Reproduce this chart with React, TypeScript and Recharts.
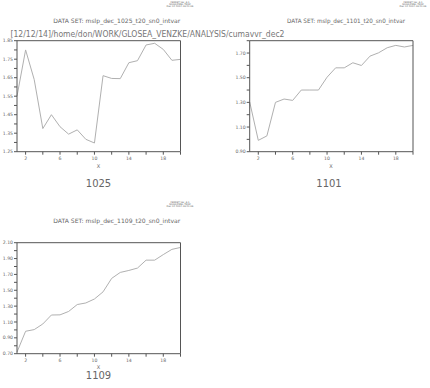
import { LineChart, Line, XAxis, YAxis } from "recharts"

const steps = [1, 2, 3, 4, 5, 6, 7, 8, 9, 10, 11, 12, 13, 14, 15, 16, 17, 18, 19, 20]

const vals1025 = [1.55, 1.8, 1.64, 1.375, 1.45, 1.385, 1.345, 1.368, 1.317, 1.297, 1.661, 1.646, 1.645, 1.731, 1.742, 1.827, 1.836, 1.803, 1.744, 1.749]
const vals1101 = [1.303, 0.992, 1.028, 1.3, 1.327, 1.316, 1.4, 1.4, 1.4, 1.504, 1.58, 1.58, 1.621, 1.599, 1.675, 1.702, 1.743, 1.762, 1.749, 1.762]
const vals1109 = [0.72, 0.983, 1.004, 1.075, 1.188, 1.19, 1.233, 1.32, 1.34, 1.39, 1.48, 1.65, 1.725, 1.75, 1.78, 1.88, 1.88, 1.95, 2.016, 2.04]

const xTicks = [2, 4, 6, 8, 10, 12, 14, 16, 18, 20]
const xLabels = [2, 6, 10, 14, 18]

const yTicks1025 = [1.25, 1.3, 1.35, 1.4, 1.45, 1.5, 1.55, 1.6, 1.65, 1.7, 1.75, 1.8, 1.85]
const yLabels1025 = [1.25, 1.35, 1.45, 1.55, 1.65, 1.75, 1.85]
const yTicks1101 = [0.9, 1.0, 1.1, 1.2, 1.3, 1.4, 1.5, 1.6, 1.7, 1.8]
const yLabels1101 = [0.9, 1.1, 1.3, 1.5, 1.7]
const yTicks1109 = [0.7, 0.8, 0.9, 1.0, 1.1, 1.2, 1.3, 1.4, 1.5, 1.6, 1.7, 1.8, 1.9, 2.0, 2.1]
const yLabels1109 = [0.7, 0.9, 1.1, 1.3, 1.5, 1.7, 1.9, 2.1]

const ferretLines = ["FERRET Ver. 6.1", "NOAA/PMEL TMAP", "Dec 12 2014 09:21:06"]
const pathTitle = "[12/12/14]/home/don/WORK/GLOSEA_VENZKE/ANALYSIS/cumavvr_dec2"

const AXIS = "#555"
const TEXT = "#666"
const FONT = "'DejaVu Sans', sans-serif"

const CW = 215
const CH = 190

const isLabel = (list: number[], v: number) => list.some((l) => Math.abs(l - v) < 1e-6)

interface PanelProps {
    values: number[]
    left: number
    top: number
    plotLeft: number
    plotRight: number
    plotTop: number
    plotBottom: number
    yDomain: [number, number]
    yTicks: number[]
    yLabels: number[]
}

function Panel({ values, left, top, plotLeft, plotRight, plotTop, plotBottom, yDomain, yTicks, yLabels }: PanelProps) {
    const data = steps.map((s, i) => ({ x: s, value: values[i] }))
    const tickStyle = { fontSize: 4.6, fill: TEXT, fontFamily: FONT }
    return (
        <div style={{ position: "absolute", left, top }}>
            <LineChart
                width={CW}
                height={CH}
                data={data}
                margin={{
                    top: plotTop - 5,
                    left: plotLeft - 17,
                    right: CW - plotRight - 5,
                    bottom: CH - plotBottom - 14,
                }}
            >
                <XAxis
                    xAxisId="b"
                    dataKey="x"
                    type="number"
                    domain={[1, 20]}
                    ticks={xTicks}
                    height={14}
                    stroke={AXIS}
                    tickSize={3}
                    tickMargin={2}
                    tick={tickStyle}
                    tickFormatter={(v) => (isLabel(xLabels, v) ? String(v) : "")}
                    interval={0}
                />
                <XAxis
                    xAxisId="t"
                    orientation="top"
                    dataKey="x"
                    type="number"
                    domain={[1, 20]}
                    ticks={xTicks}
                    height={5}
                    stroke={AXIS}
                    tickSize={3}
                    tick={false}
                    interval={0}
                />
                <YAxis
                    yAxisId="l"
                    type="number"
                    domain={yDomain}
                    ticks={yTicks}
                    width={17}
                    stroke={AXIS}
                    tickSize={3}
                    tickMargin={1}
                    tick={tickStyle}
                    tickFormatter={(v) => (isLabel(yLabels, v) ? v.toFixed(2) : "")}
                    interval={0}
                    allowDataOverflow
                />
                <YAxis
                    yAxisId="r"
                    orientation="right"
                    type="number"
                    domain={yDomain}
                    ticks={yTicks}
                    width={5}
                    stroke={AXIS}
                    tickSize={3}
                    tick={false}
                    interval={0}
                    allowDataOverflow
                />
                <Line
                    xAxisId="b"
                    yAxisId="l"
                    type="linear"
                    dataKey="value"
                    stroke="#b0b0b0"
                    strokeWidth={1}
                    dot={false}
                    isAnimationActive={false}
                />
            </LineChart>
        </div>
    )
}

function Header({ cx, top, dsX, dataSet, dsLen }: { cx: number; top: number; dsX: number; dataSet: string; dsLen: number }) {
    return (
        <g>
            {ferretLines.map((t, i) => (
                <text key={i} x={cx} y={top + 2.6 + i * 2.4} fontSize={2.4} fill={TEXT} fontFamily={FONT} textAnchor="middle">
                    {t}
                </text>
            ))}
            <text x={dsX} y={top + 23} fontSize={6} fill={TEXT} fontFamily={FONT} textLength={dsLen} lengthAdjust="spacingAndGlyphs">
                {dataSet}
            </text>
        </g>
    )
}

export default function App() {
    return (
        <div style={{ position: "absolute", left: 0, top: 0, width: 430, height: 388, background: "#fff", fontFamily: FONT }}>
            <Panel values={vals1025} left={0} top={0}
                plotLeft={17} plotRight={180.5} plotTop={40.7} plotBottom={151.7}
                yDomain={[1.25, 1.85]} yTicks={yTicks1025} yLabels={yLabels1025} />
            <Panel values={vals1101} left={215} top={0}
                plotLeft={34.7} plotRight={198} plotTop={40.7} plotBottom={151.7}
                yDomain={[0.9, 1.8]} yTicks={yTicks1101} yLabels={yLabels1101} />
            <Panel values={vals1109} left={0} top={201.6}
                plotLeft={17} plotRight={180.5} plotTop={40.7} plotBottom={151.7}
                yDomain={[0.7, 2.1]} yTicks={yTicks1109} yLabels={yLabels1109} />
            <svg width={430} height={388} style={{ position: "absolute", left: 0, top: 0, pointerEvents: "none" }}>
                <Header cx={180} top={0} dsX={53.3} dataSet="DATA SET: mslp_dec_1025_t20_sn0_intvar" dsLen={127} />
                <Header cx={413} top={0} dsX={287} dataSet="DATA SET: mslp_dec_1101_t20_sn0_intvar" dsLen={118} />
                <Header cx={180} top={200} dsX={53.3} dataSet="DATA SET: mslp_dec_1109_t20_sn0_intvar" dsLen={127} />
                <text x={10.5} y={36.5} fontSize={8.6} fill="#777" fontFamily={FONT} textLength={274} lengthAdjust="spacingAndGlyphs">
                    {pathTitle}
                </text>
                <text x={98.5} y={168} fontSize={5} fill={TEXT} fontFamily={FONT} textAnchor="middle">X</text>
                <text x={331} y={168} fontSize={5} fill={TEXT} fontFamily={FONT} textAnchor="middle">X</text>
                <text x={98.5} y={369} fontSize={5} fill={TEXT} fontFamily={FONT} textAnchor="middle">X</text>
                <text x={98.5} y={186.5} fontSize={10} fill={TEXT} fontFamily={FONT} textAnchor="middle">1025</text>
                <text x={329} y={186.5} fontSize={10} fill={TEXT} fontFamily={FONT} textAnchor="middle">1101</text>
                <text x={98.5} y={379} fontSize={10} fill={TEXT} fontFamily={FONT} textAnchor="middle">1109</text>
            </svg>
        </div>
    )
}
